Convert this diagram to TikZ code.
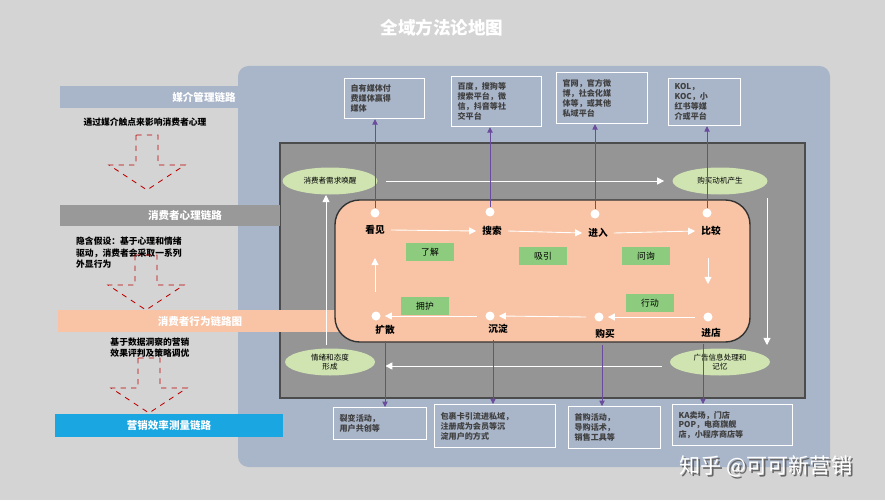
\documentclass[tikz,border=0pt]{standalone}
\usepackage{fontspec}
\setmainfont{Noto Sans CJK SC}
\usetikzlibrary{arrows.meta,shapes.geometric}
\definecolor{bgc}{HTML}{D4D4D4}
\definecolor{panel}{HTML}{A9B5C9}
\definecolor{darkbox}{HTML}{959595}
\definecolor{peach}{HTML}{F8C4A5}
\definecolor{leaf}{HTML}{D0E4B2}
\definecolor{tag}{HTML}{8DCB7E}
\definecolor{sky}{HTML}{1AA7E1}
\definecolor{plum}{HTML}{6A4C9C}
\newdimen\px \px=0.02cm
\tikzset{
  band/.style={inner sep=0pt, text=white, font=\bfseries\fontsize{6}{7}\selectfont},
  oval/.style={ellipse, fill=leaf, minimum width=#1\px, minimum height=27\px, inner sep=0pt, align=center, font=\fontsize{4.3}{5}\selectfont},
  stage/.style={font=\bfseries\fontsize{5.5}{6}\selectfont},
  dot/.style={circle, fill=white, inner sep=0pt, minimum size=9\px},
  chip/.style={fill=tag, minimum width=48\px, minimum height=18\px, inner sep=0pt, font=\fontsize{5}{6}\selectfont},
  note/.style={draw=white, line width=0.7pt, fill=panel, align=left, inner xsep=6\px, inner ysep=3\px, anchor=north west, font=\bfseries\fontsize{4.6}{5.6}\selectfont, text=black!75},
  flow/.style={white, line width=0.5pt, -{Triangle[width=4pt,length=4pt]}},
  link/.style={plum, line width=0.5pt, -{Triangle[width=3pt,length=3pt]}},
  hollow/.style={red!75!black, dashed, line width=0.5pt}
}
\begin{document}
\begin{tikzpicture}[x=0.02cm, y=-0.02cm]
\fill[bgc] (0,0) rectangle (885,500);
\useasboundingbox (0,0) rectangle (885,500);

\node[text=white, font=\bfseries\fontsize{10}{12}\selectfont] (title) at (442,28) {全域方法论地图};

% panels
\fill[panel, rounded corners=6pt] (238,66) rectangle (830,467);
\fill[darkbox, draw=black!70, line width=0.6pt] (280,143) rectangle (805,398);

% left side chains
\fill[panel] (60,86) rectangle (240,108);
\node[band, anchor=east] (media) at (236,97) {媒介管理链路};
\fill[black!40] (60,205) rectangle (280,226);
\node[band] (mind) at (185,215) {消费者心理链路};
\fill[peach] (58,310) rectangle (340,332);
\node[band] (act) at (200,321) {消费者行为链路图};
\fill[sky] (55,414) rectangle (283,437);
\node[band] (eff) at (169,425) {营销效率测量链路};

\node[font=\bfseries\fontsize{5}{6}\selectfont] (t1) at (145,122) {通过媒介触点来影响消费者心理};
\node[font=\bfseries\fontsize{5}{6.4}\selectfont, align=left, anchor=north west] (t2) at (70,231) {隐含假设：基于心理和情绪\\驱动，消费者会采取一系列\\外显行为};
\node[font=\bfseries\fontsize{5}{6.4}\selectfont, align=center] (t3) at (150,348) {基于数据洞察的营销\\效果评判及策略调优};

\foreach \ya/\xc in {135/147, 255/146, 358/149}{
  \draw[hollow] (\xc-11,\ya) -- (\xc-11,\ya+30) -- (\xc-38,\ya+30) -- (\xc,\ya+55) -- (\xc+38,\ya+30) -- (\xc+11,\ya+30) -- (\xc+11,\ya) -- cycle;
}

% core loop
\draw[fill=peach, draw=black!80, line width=0.8pt, rounded corners=14pt] (335,200) rectangle (750,342);

\node[oval=95] (wake) at (330,181) {消费者需求唤醒};
\node[oval=95] (motive) at (720,181) {购买动机产生};
\node[oval=90] (mood) at (330,362) {情绪和态度\\形成};
\node[oval=100] (memo) at (720,362) {广告信息处理和\\记忆};

\draw[flow] (wake.east) ++(8,0) -- ([xshift=-8\px]motive.west);
\draw[flow] (memo.west) ++(-8,4) -- ([xshift=10\px,yshift=-4\px]mood.east);
\draw[flow] (326,345) -- (326,195);
\draw[flow] (767,198) -- (767,345);

\node[dot] (d1) at (375,213) {};
\node[dot] (d2) at (490,212) {};
\node[dot] (d3) at (595,214) {};
\node[dot] (d4) at (707,213) {};
\node[dot] (d5) at (376,316) {};
\node[dot] (d6) at (490,316) {};
\node[dot] (d7) at (599,317) {};
\node[dot] (d8) at (708,317) {};

\node[stage] (see) at (375,230) {看见};
\node[stage] (seek) at (492,231) {搜索};
\node[stage] (enter) at (598,233) {进入};
\node[stage] (cmp) at (711,231) {比较};
\node[stage] (spread) at (385,330) {扩散};
\node[stage] (settle) at (498,329) {沉淀};
\node[stage] (buy) at (605,334) {购买};
\node[stage] (store) at (711,333) {进店};

\draw[flow] (see.east) -- (seek.west);
\draw[flow] (seek.east) -- (enter.west);
\draw[flow] (enter.east) -- (cmp.west);
\draw[flow] (708,258) -- (708,284);
\draw[flow] (d8.west) ++(-8,0) -- ([xshift=4\px]d7.east);
\draw[flow] (d7.west) ++(-8,0) -- ([xshift=4\px]d6.east);
\draw[flow] (d6.west) ++(-8,0) -- ([xshift=4\px]d5.east);
\draw[flow] (375,292) -- (375,258);

\node[chip] (know) at (430,252) {了解};
\node[chip] (draw) at (543,256) {吸引};
\node[chip] (ask) at (646,256) {问询};
\node[chip] (loyal) at (425,306) {拥护};
\node[chip] (deed) at (650,303) {行动};

% touch points
\node[note, text width=68\px, minimum height=40\px] (n1) at (344,78) {自有媒体付\\费媒体赢得\\媒体};
\node[note, text width=78\px, minimum height=50\px] (n2) at (451,76) {百度，搜狗等\\搜索平台，微\\信，抖音等社\\交平台};
\node[note, text width=79\px, minimum height=51\px] (n3) at (556,72) {官网，官方微\\博，社会化媒\\体等，或其他\\私域平台};
\node[note, text width=60\px, minimum height=47\px] (n4) at (668,78) {KOL，\\KOC，小\\红书等媒\\介或平台};

\node[note, text width=81\px, minimum height=32\px] (b1) at (333,407) {裂变活动，\\用户共创等};
\node[note, text width=109\px, minimum height=43\px] (b2) at (434,404) {包裹卡引流进私域，\\注册成为会员等沉\\淀用户的方式};
\node[note, text width=80\px, minimum height=42\px] (b3) at (568,406) {首购活动，\\导购话术，\\销售工具等};
\node[note, text width=108\px, minimum height=41\px] (b4) at (672,404) {KA卖场，门店\\POP，电商旗舰\\店，小程序商店等};

\draw[link] (d1.north) -- (n1.south -| d1);
\draw[link] (d2.north) -- (n2.south -| d2);
\draw[link] (d3.north) -- (n3.south -| d3);
\draw[link] (d4.north) -- (n4.south -| d4);
\draw[link] (spread.south) -- (b1.north -| spread);
\draw[link] ([xshift=-5\px]settle.south) -- ([xshift=-5\px]b2.north -| settle);
\draw[link] ([xshift=-3\px]buy.south) -- ([xshift=-3\px]b3.north -| buy);
\draw[link] ([xshift=-8\px]store.south) -- ([xshift=-8\px]b4.north -| store);

\node[text=black!60, font=\fontsize{12}{14}\selectfont] (shade) at (768,468) {知乎 @可可新营销};
\node[text=white, font=\fontsize{12}{14}\selectfont] (mark) at (766,466) {知乎 @可可新营销};
\end{tikzpicture}
\end{document}
